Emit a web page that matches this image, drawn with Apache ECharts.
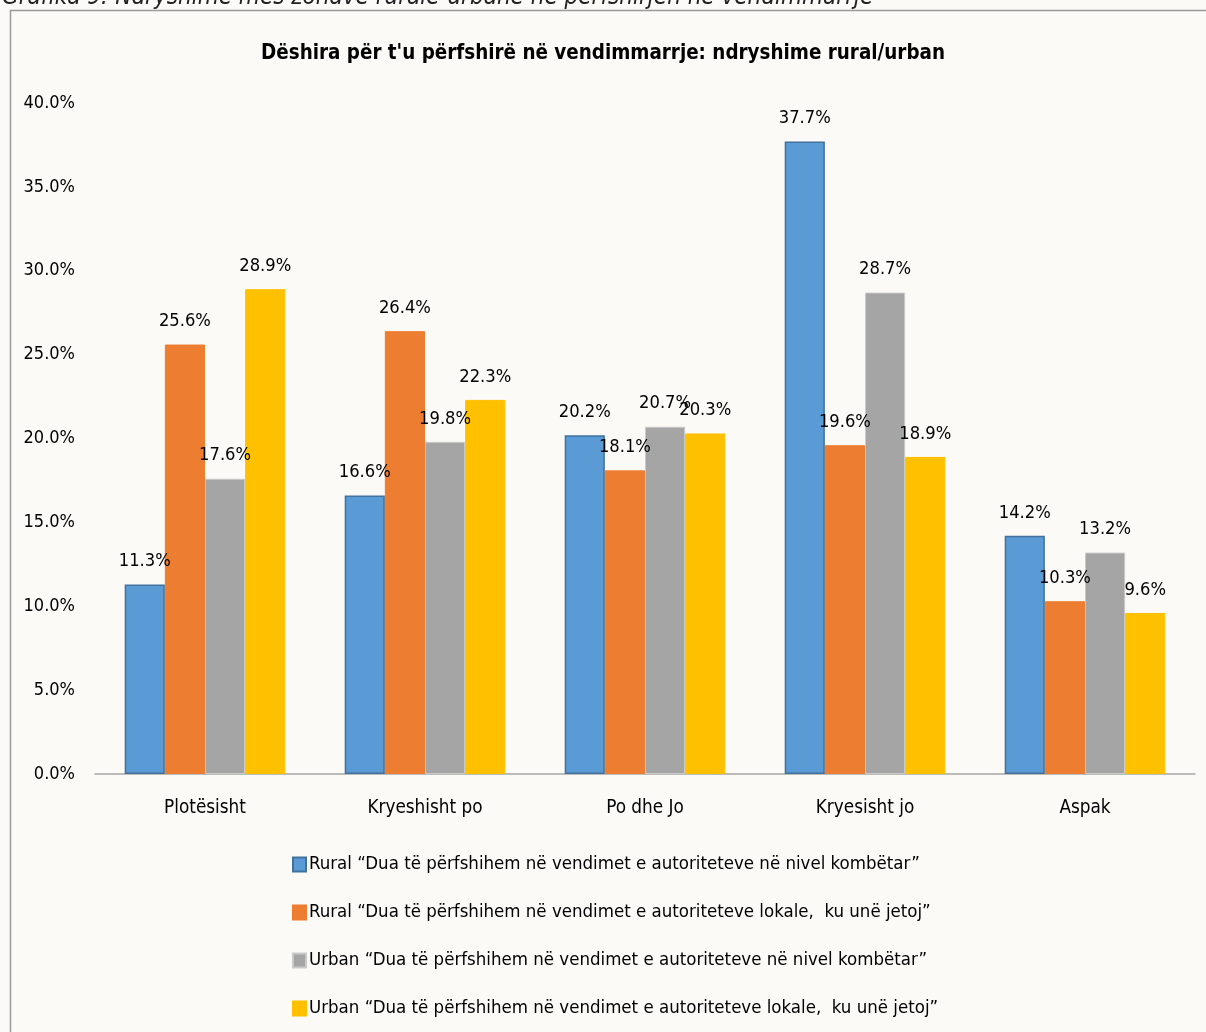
<!DOCTYPE html>
<html><head><meta charset="utf-8">
<script src="https://cdn.jsdelivr.net/npm/echarts@6/dist/echarts.min.js"></script>
<style>html,body{margin:0;padding:0;background:#fbfaf6;}#c{width:1206px;height:1032px;}</style>
</head><body><div id="c"></div>
<script>
const categories = ['Plotësisht', 'Kryeshisht po', 'Po dhe Jo', 'Kryesisht jo', 'Aspak'];
const seriesNames = [
  'Rural “Dua të përfshihem në vendimet e autoriteteve në nivel kombëtar”',
  'Rural “Dua të përfshihem në vendimet e autoriteteve lokale,  ku unë jetoj”',
  'Urban “Dua të përfshihem në vendimet e autoriteteve në nivel kombëtar”',
  'Urban “Dua të përfshihem në vendimet e autoriteteve lokale,  ku unë jetoj”'
];
const ruralNational = [11.3, 16.6, 20.2, 37.7, 14.2];
const ruralLocal = [25.6, 26.4, 18.1, 19.6, 10.3];
const urbanNational = [17.6, 19.8, 20.7, 28.7, 13.2];
const urbanLocal = [28.9, 22.3, 20.3, 18.9, 9.6];
const yTicks = [0, 5, 10, 15, 20, 25, 30, 35, 40];
const titleText = "Dëshira për t'u përfshirë në vendimmarrje: ndryshime rural/urban";
const captionText = 'Grafika 9: Ndryshime mes zonave rurale-urbane në përfshirjen në vendimmarrje';

const FONT = "'Liberation Sans Narrow', 'DejaVu Sans Condensed', sans-serif";
const colors = ['#5b9bd5', '#ed7d31', '#a5a5a5', '#ffc000'];
const borders = ['#41719c', '#ed7d31', '#c9c9c9', '#ffc000'];
const allData = [ruralNational, ruralLocal, urbanNational, urbanLocal];

const chart = echarts.init(document.getElementById('c'));
chart.setOption({
  backgroundColor: '#fbfaf6',
  textStyle: { fontFamily: FONT },
  title: {
    text: titleText, left: 'center', top: 39,
    textStyle: { fontFamily: FONT, fontSize: 20.4, fontWeight: 'bold', color: '#000' }
  },
  graphic: [
    { type: 'rect', shape: { x: 10.5, y: 10.5, width: 1400, height: 1200 },
      style: { fill: null, stroke: '#9a9a9a', lineWidth: 1.5 }, silent: true },
    { type: 'text', left: 2, top: -14,
      style: { text: captionText, font: "italic 24px 'Liberation Sans Narrow', 'DejaVu Sans Condensed', sans-serif", fill: '#222' } }
  ],
  legend: {
    orient: 'vertical', left: 287, top: 850, itemGap: 29,
    itemWidth: 13, itemHeight: 14,
    icon: 'rect',
    textStyle: { fontFamily: FONT, fontSize: 18.5, color: '#000', padding: [0, 0, 0, -2] },
    data: seriesNames
  },
  grid: { left: 95, right: 11, top: 103, bottom: 258, containLabel: false },
  xAxis: {
    type: 'category', data: categories,
    axisLine: { lineStyle: { color: '#a6a6a6', width: 1.5 } },
    axisTick: { show: false },
    axisLabel: { fontSize: 18.8, color: '#000', margin: 25, fontFamily: FONT }
  },
  yAxis: {
    type: 'value', min: 0, max: 40, interval: 5,
    splitLine: { show: false }, axisLine: { show: false }, axisTick: { show: false },
    axisLabel: { fontSize: 18, color: '#000', margin: 20, fontFamily: FONT,
      formatter: v => v.toFixed(1) + '%' }
  },
  series: allData.map((d, i) => ({
    name: seriesNames[i], type: 'bar', data: d,
    barGap: '0%', barCategoryGap: '27%',
    itemStyle: { color: colors[i], borderColor: borders[i], borderWidth: i === 0 ? 1.5 : 1 },
    label: { show: true, position: 'top', distance: 14, fontSize: 18.2, color: '#000', fontFamily: FONT,
      formatter: p => p.value.toFixed(1) + '%' }
  }))
});
</script></body></html>
